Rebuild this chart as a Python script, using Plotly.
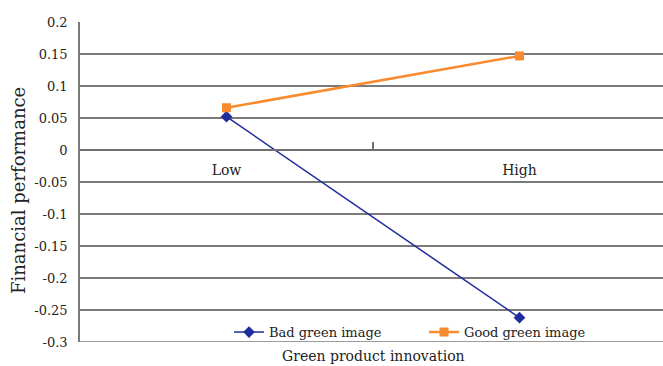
import plotly.graph_objects as go

categories = ["Low", "High"]
bad_green_image = [0.052, -0.262]
good_green_image = [0.066, 0.147]
y_ticks = [0.2, 0.15, 0.1, 0.05, 0, -0.05, -0.1, -0.15, -0.2, -0.25, -0.3]
y_tick_text = ["0.2", "0.15", "0.1", "0.05", "0", "-0.05", "-0.1", "-0.15", "-0.2", "-0.25", "-0.3"]

FONT = "DejaVu Serif"

fig = go.Figure()
fig.add_trace(go.Scatter(
    x=categories, y=bad_green_image, name="Bad green image",
    mode="lines+markers",
    line=dict(color="#1F2C9C", width=1.5),
    marker=dict(symbol="diamond", size=9, color="#1F2C9C"),
))
fig.add_trace(go.Scatter(
    x=categories, y=good_green_image, name="Good green image",
    mode="lines+markers",
    line=dict(color="#F98A2E", width=2.5),
    marker=dict(symbol="square", size=9, color="#F98A2E"),
))

fig.update_layout(
    width=663, height=366,
    margin=dict(l=80, r=0, t=22, b=24, autoexpand=False),
    paper_bgcolor="white", plot_bgcolor="white",
    font=dict(family=FONT, size=13, color="#222222"),
    showlegend=True,
    legend=dict(orientation="h", x=0.2556, xanchor="left", y=0.031, yanchor="middle",
                bgcolor="rgba(0,0,0,0)", font=dict(size=13, family=FONT),
                entrywidth=150, entrywidthmode="pixels", tracegroupgap=0),
    xaxis=dict(
        type="category", range=[-0.5, 1.4898],
        anchor="free", position=0.6, automargin=False,
        showgrid=False, zeroline=False,
        showline=True, linecolor="#707070", linewidth=1.5,
        tickson="boundaries", ticks="inside", ticklen=7, tickcolor="#707070", tickwidth=1.5,
        ticklabelstandoff=7,
        tickfont=dict(size=14, family=FONT),
    ),
    yaxis=dict(
        range=[-0.3, 0.2], automargin=False,
        tickvals=y_ticks, ticktext=y_tick_text,
        showgrid=True, gridcolor="#7a7a7a", gridwidth=1.5,
        zeroline=False,
        showline=True, linecolor="#7a7a7a", linewidth=1.5,
        ticks="", ticklabelstandoff=8,
        tickfont=dict(size=13, family=FONT),
    ),
    shapes=[dict(type="line", xref="paper", yref="y", x0=0, x1=1, y0=y_ticks[-1], y1=y_ticks[-1],
                 line=dict(color="#7a7a7a", width=1.5), layer="below")],
    annotations=[
        dict(text="Green product innovation", xref="paper", yref="paper",
             x=(373 - 80) / 583, y=-(356 - 342) / 320, xanchor="center", yanchor="middle",
             showarrow=False, font=dict(size=14, family=FONT)),
        dict(text="Financial performance", xref="paper", yref="paper",
             x=-(80 - 18) / 583, y=(342 - 191) / 320, xanchor="center", yanchor="middle",
             textangle=-90, showarrow=False, font=dict(size=18, family=FONT)),
    ],
)

fig.write_html("out.html", config={"displayModeBar": False},
               post_script="document.body.style.margin='0';document.body.style.padding='0';")
